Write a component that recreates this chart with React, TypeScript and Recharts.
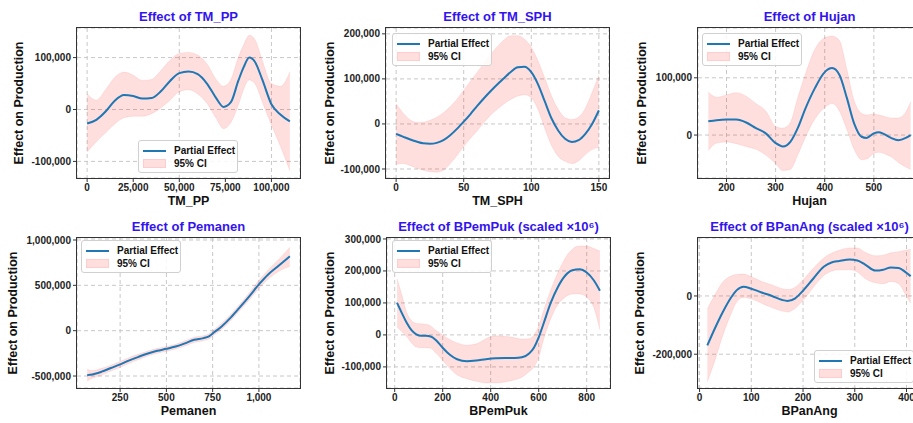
import React from "react";
import {
  Area,
  CartesianGrid,
  ComposedChart,
  Line,
  XAxis,
  YAxis,
} from "recharts";

// ---- TM_PP
const ppX = [0, 5000, 10000, 15000, 20000, 25000, 30000, 35000, 40000, 45000, 50000, 55000, 60000, 65000, 70000, 74000, 78000, 82000, 85000, 88000, 91000, 95000, 100000, 105000, 110000];
const ppEff = [-27000, -20000, -4000, 17000, 28000, 26000, 21000, 22000, 35000, 55000, 70000, 73000, 68000, 50000, 22000, 5000, 14000, 55000, 82000, 100000, 92000, 58000, 10000, -10000, -23000];
const ppHi = [30000, 18000, 38000, 62000, 72000, 66000, 56000, 58000, 75000, 95000, 108000, 110000, 105000, 88000, 58000, 45000, 58000, 100000, 125000, 143000, 135000, 95000, 50000, 45000, 72000];
const ppLo = [-82000, -62000, -45000, -28000, -16000, -13000, -13000, -8000, 3000, 18000, 34000, 38000, 30000, 12000, -17000, -37000, -25000, 8000, 40000, 57000, 50000, 15000, -30000, -72000, -118000];

// ---- TM_SPH
const sphX = [0, 5, 10, 15, 20, 25, 30, 35, 40, 45, 50, 55, 60, 65, 70, 75, 80, 85, 90, 95, 100, 105, 110, 115, 120, 125, 130, 135, 140, 145, 150];
const sphEff = [-22000, -28000, -34000, -39000, -43000, -44000, -42000, -36000, -25000, -11000, 5000, 22000, 40000, 57000, 73000, 88000, 102000, 116000, 126000, 127000, 115000, 88000, 50000, 12000, -15000, -33000, -40000, -36000, -22000, 0, 30000];
const sphHi = [45000, 25000, 10000, 4000, 4000, 8000, 15000, 25000, 38000, 55000, 75000, 95000, 115000, 135000, 155000, 172000, 187000, 196000, 196000, 188000, 170000, 140000, 102000, 62000, 32000, 14000, 10000, 15000, 35000, 70000, 108000];
const sphLo = [-90000, -88000, -92000, -98000, -103000, -106000, -107000, -103000, -88000, -70000, -50000, -32000, -15000, 3000, 20000, 33000, 45000, 55000, 62000, 65000, 58000, 32000, -10000, -48000, -72000, -83000, -88000, -82000, -68000, -57000, -52000];

// ---- Hujan
const hujX = [163, 180, 200, 220, 240, 260, 280, 300, 315, 330, 345, 360, 380, 400, 415, 430, 445, 460, 475, 485, 500, 510, 520, 535, 550, 565, 575];
const hujEff = [24000, 26000, 27000, 27000, 22000, 12000, 3000, -14000, -20000, -12000, 12000, 45000, 82000, 110000, 117000, 105000, 65000, 20000, -3000, -5000, 3000, 5000, 2000, -5000, -9000, -5000, 0];
const hujHi = [75000, 66000, 70000, 74000, 68000, 55000, 42000, 15000, 12000, 22000, 65000, 105000, 150000, 170000, 173000, 165000, 115000, 60000, 38000, 35000, 37000, 35000, 33000, 30000, 30000, 40000, 58000];
const hujLo = [-27000, -14000, -12000, -15000, -20000, -25000, -35000, -50000, -62000, -60000, -35000, -5000, 28000, 48000, 55000, 42000, 10000, -25000, -43000, -42000, -32000, -30000, -32000, -38000, -48000, -56000, -60000];

// ---- Pemanen
const pemX = [72, 100, 150, 200, 250, 300, 350, 400, 450, 500, 550, 600, 650, 700, 730, 760, 800, 850, 900, 950, 1000, 1050, 1100, 1167];
const pemEff = [-490000, -482000, -452000, -412000, -372000, -327000, -288000, -252000, -222000, -200000, -175000, -140000, -100000, -82000, -62000, -15000, 50000, 150000, 265000, 385000, 510000, 620000, 705000, 820000];
const pemHi = [-425000, -440000, -415000, -380000, -340000, -295000, -258000, -225000, -195000, -175000, -150000, -112000, -72000, -55000, -35000, 15000, 85000, 185000, 300000, 425000, 555000, 670000, 770000, 920000];
const pemLo = [-555000, -525000, -490000, -445000, -405000, -360000, -318000, -280000, -250000, -228000, -202000, -170000, -130000, -110000, -92000, -45000, 15000, 115000, 230000, 345000, 465000, 570000, 645000, 710000];

// ---- BPemPuk
const pukX = [10, 30, 50, 70, 90, 110, 130, 150, 170, 200, 230, 260, 300, 340, 380, 420, 460, 500, 530, 560, 580, 600, 620, 650, 680, 710, 740, 770, 800, 830, 855];
const pukEff = [100000, 68000, 38000, 15000, 2000, -3000, -3000, -5000, -15000, -40000, -62000, -76000, -82000, -80000, -76000, -73000, -72000, -72000, -70000, -58000, -40000, -8000, 35000, 100000, 150000, 185000, 202000, 205000, 195000, 170000, 138000];
const pukHi = [175000, 125000, 70000, 45000, 36000, 35000, 33000, 28000, 15000, 0, -15000, -25000, -32000, -28000, -12000, -3000, -4000, -9000, -13000, -12000, 0, 28000, 75000, 140000, 195000, 240000, 268000, 278000, 278000, 270000, 262000];
const pukLo = [25000, 10000, -5000, -25000, -38000, -40000, -40000, -42000, -55000, -80000, -105000, -125000, -137000, -145000, -150000, -150000, -147000, -140000, -132000, -115000, -100000, -70000, -15000, 50000, 95000, 118000, 128000, 128000, 118000, 85000, 15000];

// ---- BPanAng
const angX = [15, 30, 45, 60, 72, 85, 100, 120, 140, 160, 170, 185, 200, 220, 240, 255, 270, 290, 305, 320, 340, 355, 370, 385, 398, 408];
const angEff = [-170000, -110000, -55000, -8000, 20000, 32000, 25000, 12000, 0, -14000, -17000, -8000, 18000, 60000, 100000, 115000, 120000, 125000, 122000, 108000, 87000, 90000, 98000, 96000, 82000, 68000];
const angHi = [-45000, 5000, 48000, 68000, 74000, 75000, 66000, 50000, 38000, 25000, 22000, 30000, 55000, 95000, 130000, 147000, 157000, 165000, 165000, 150000, 138000, 140000, 148000, 152000, 157000, 160000];
const angLo = [-295000, -220000, -135000, -65000, -20000, -5000, -10000, -25000, -40000, -52000, -55000, -42000, -15000, 30000, 70000, 85000, 90000, 90000, 82000, 60000, 45000, 42000, 50000, 42000, 5000, -25000];

const FONT = "'Liberation Sans', Arial, Helvetica, sans-serif";
const BLUE = "#1f77b4";
const PINK = "rgba(255, 0, 0, 0.13)";
const TITLE_COLOR = "#3314ee";

const PLOT_W = 223;
const PLOT_H = 150;
const YW = 70;
const TOP = 5;
const XH = 30;
const RIGHT = 5;

type LegendPos = { left: number; top: number };

interface PanelProps {
  title: string;
  xLabel: string;
  x: number[];
  eff: number[];
  lo: number[];
  hi: number[];
  xDomain: [number, number];
  xTicks: number[];
  yDomain: [number, number];
  yTicks: number[];
  plotLeft: number;
  plotTop: number;
  yLabelX: number;
  legend: LegendPos;
}

const fmt = (v: number) => v.toLocaleString("en-US");

function LegendBox({ left, top }: LegendPos) {
  return (
    <div
      style={{
        position: "absolute",
        left,
        top,
        width: 100,
        height: 33,
        boxSizing: "border-box",
        background: "rgba(255,255,255,0.85)",
        border: "1px solid #d0d0d0",
        borderRadius: 3,
        fontFamily: FONT,
        fontWeight: 700,
        fontSize: 10,
        color: "#111",
        padding: "3px 0 0 4px",
        lineHeight: "13px",
        whiteSpace: "nowrap",
      }}
    >
      <div style={{ display: "flex", alignItems: "center" }}>
        <span style={{ display: "inline-block", width: 23, height: 2, background: BLUE, marginRight: 8 }} />
        Partial Effect
      </div>
      <div style={{ display: "flex", alignItems: "center" }}>
        <span
          style={{
            display: "inline-block",
            width: 21,
            height: 7,
            background: "rgb(255,222,222)",
            border: "1px solid rgb(255,205,205)",
            marginRight: 8,
          }}
        />
        95% CI
      </div>
    </div>
  );
}

function Panel(p: PanelProps) {
  const rows = p.x.map((xv, i) => ({ x: xv, eff: p.eff[i], ci: [p.lo[i], p.hi[i]] }));
  const tick = { fontSize: 10, fontWeight: 700, fill: "#222", fontFamily: FONT };
  return (
    <>
      <div style={{ position: "absolute", left: p.plotLeft - YW, top: p.plotTop - TOP }}>
        <ComposedChart
          width={YW + PLOT_W + RIGHT}
          height={TOP + PLOT_H + XH}
          data={rows}
          margin={{ top: TOP, right: RIGHT, bottom: 0, left: 0 }}
        >
          <CartesianGrid stroke="#c8c8c8" strokeDasharray="4 3" />
          <XAxis
            dataKey="x"
            type="number"
            domain={p.xDomain}
            ticks={p.xTicks}
            tickFormatter={fmt}
            allowDataOverflow
            axisLine={false}
            tickLine={{ stroke: "#333" }}
            tickSize={4}
            tickMargin={2}
            tick={tick}
            height={XH}
          />
          <YAxis
            type="number"
            domain={p.yDomain}
            ticks={p.yTicks}
            tickFormatter={fmt}
            allowDataOverflow
            axisLine={false}
            tickLine={{ stroke: "#333" }}
            tickSize={4}
            tickMargin={2}
            tick={tick}
            width={YW}
          />
          <Area
            dataKey="ci"
            type="monotone"
            fill={PINK}
            fillOpacity={1}
            stroke="rgba(255,0,0,0.08)"
            isAnimationActive={false}
            activeDot={false}
          />
          <Line
            dataKey="eff"
            type="monotone"
            stroke={BLUE}
            strokeWidth={2}
            dot={false}
            activeDot={false}
            isAnimationActive={false}
          />
        </ComposedChart>
      </div>
      {/* frame */}
      <div
        style={{
          position: "absolute",
          left: p.plotLeft - 1,
          top: p.plotTop - 1,
          width: PLOT_W + 2,
          height: PLOT_H + 2,
          boxSizing: "border-box",
          border: "1.5px solid #333",
          pointerEvents: "none",
        }}
      />
      {/* title */}
      <div
        style={{
          position: "absolute",
          left: p.plotLeft - 40,
          width: PLOT_W + 80,
          top: p.plotTop - 19,
          textAlign: "center",
          fontFamily: FONT,
          fontWeight: 700,
          fontSize: 13,
          color: TITLE_COLOR,
          lineHeight: "15px",
          whiteSpace: "nowrap",
        }}
      >
        {p.title}
      </div>
      {/* x label */}
      <div
        style={{
          position: "absolute",
          left: p.plotLeft,
          width: PLOT_W,
          top: p.plotTop + PLOT_H + 16,
          textAlign: "center",
          fontFamily: FONT,
          fontWeight: 700,
          fontSize: 12.5,
          color: "#111",
          lineHeight: "15px",
        }}
      >
        {p.xLabel}
      </div>
      {/* y label */}
      <div
        style={{
          position: "absolute",
          left: p.yLabelX - 75,
          top: p.plotTop + PLOT_H / 2 - 8,
          width: 150,
          height: 16,
          textAlign: "center",
          fontFamily: FONT,
          fontWeight: 700,
          fontSize: 12.5,
          color: "#111",
          lineHeight: "16px",
          transform: "rotate(-90deg)",
          whiteSpace: "nowrap",
        }}
      >
        Effect on Production
      </div>
      <LegendBox left={p.legend.left} top={p.legend.top} />
    </>
  );
}

export default function App() {
  return (
    <div
      style={{
        position: "absolute",
        left: 0,
        top: 0,
        width: 913,
        height: 423,
        overflow: "hidden",
        background: "#fff",
      }}
    >
      <Panel
        title="Effect of TM_PP"
        xLabel="TM_PP"
        x={ppX}
        eff={ppEff}
        lo={ppLo}
        hi={ppHi}
        xDomain={[-5500, 115500]}
        xTicks={[0, 25000, 50000, 75000, 100000]}
        yDomain={[-132000, 157000]}
        yTicks={[-100000, 0, 100000]}
        plotLeft={77}
        plotTop={28}
        yLabelX={19}
        legend={{ left: 138, top: 140 }}
      />
      <Panel
        title="Effect of TM_SPH"
        xLabel="TM_SPH"
        x={sphX}
        eff={sphEff}
        lo={sphLo}
        hi={sphHi}
        xDomain={[-7.5, 157.5]}
        xTicks={[0, 50, 100, 150]}
        yDomain={[-120000, 213000]}
        yTicks={[-100000, 0, 100000, 200000]}
        plotLeft={386}
        plotTop={28}
        yLabelX={330}
        legend={{ left: 392, top: 33 }}
      />
      <Panel
        title="Effect of Hujan"
        xLabel="Hujan"
        x={hujX}
        eff={hujEff}
        lo={hujLo}
        hi={hujHi}
        xDomain={[142, 596]}
        xTicks={[200, 300, 400, 500]}
        yDomain={[-75000, 187000]}
        yTicks={[0, 100000]}
        plotLeft={698}
        plotTop={28}
        yLabelX={642}
        legend={{ left: 702, top: 33 }}
      />
      <Panel
        title="Effect of Pemanen"
        xLabel="Pemanen"
        x={pemX}
        eff={pemEff}
        lo={pemLo}
        hi={pemHi}
        xDomain={[17, 1222]}
        xTicks={[250, 500, 750, 1000]}
        yDomain={[-632000, 1022000]}
        yTicks={[-500000, 0, 500000, 1000000]}
        plotLeft={77}
        plotTop={238}
        yLabelX={13}
        legend={{ left: 81, top: 240 }}
      />
      <Panel
        title="Effect of BPemPuk (scaled ×10⁶)"
        xLabel="BPemPuk"
        x={pukX}
        eff={pukEff}
        lo={pukLo}
        hi={pukHi}
        xDomain={[-32, 897]}
        xTicks={[0, 200, 400, 600, 800]}
        yDomain={[-166000, 303000]}
        yTicks={[-100000, 0, 100000, 200000, 300000]}
        plotLeft={387}
        plotTop={238}
        yLabelX={330}
        legend={{ left: 392, top: 240 }}
      />
      <Panel
        title="Effect of BPanAng (scaled ×10⁶)"
        xLabel="BPanAng"
        x={angX}
        eff={angEff}
        lo={angLo}
        hi={angHi}
        xDomain={[-3, 428]}
        xTicks={[0, 100, 200, 300, 400]}
        yDomain={[-316000, 199000]}
        yTicks={[-200000, 0]}
        plotLeft={698}
        plotTop={238}
        yLabelX={640}
        legend={{ left: 814, top: 350 }}
      />
    </div>
  );
}
